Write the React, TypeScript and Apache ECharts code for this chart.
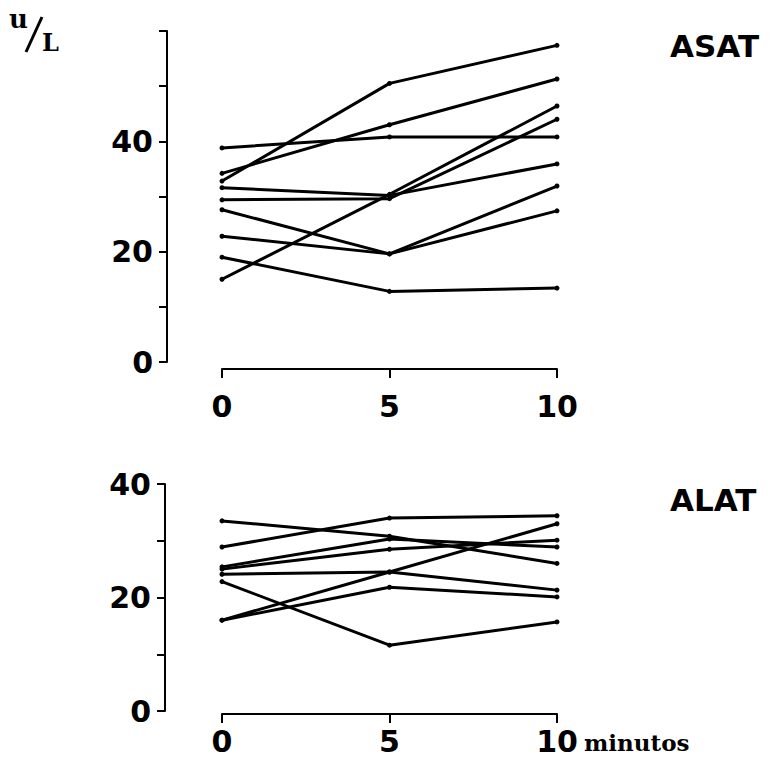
import React, { useEffect, useRef } from 'react';
import * as echarts from 'echarts';

// time points (minutes)
const minutes = [0, 5, 10];

// ASAT (U/L) per subject at 0, 5, 10 min
const asat1 = [38.8, 40.8, 40.8];
const asat2 = [34.2, 43.0, 51.3];
const asat3 = [32.8, 50.5, 57.4];
const asat4 = [31.6, 30.2, 35.9];
const asat5 = [29.4, 29.6, 44.0];
const asat6 = [15.0, 30.4, 46.4];
const asat7 = [27.6, 19.6, 31.9];
const asat8 = [22.8, 19.6, 27.4];
const asat9 = [19.0, 12.8, 13.4];

// ALAT (U/L) per subject at 0, 5, 10 min
const alat1 = [33.5, 30.8, 26.0];
const alat2 = [28.9, 34.0, 34.4];
const alat3 = [25.4, 30.3, 28.9];
const alat4 = [25.0, 28.5, 30.1];
const alat5 = [24.1, 24.5, 21.3];
const alat6 = [22.8, 11.6, 15.7];
const alat7 = [16.0, 21.8, 20.1];
const alat8 = [16.0, 24.5, 33.0];

const asatLines = [asat1, asat2, asat3, asat4, asat5, asat6, asat7, asat8, asat9];
const alatLines = [alat1, alat2, alat3, alat4, alat5, alat6, alat7, alat8];

const asatYLabels = [0, 20, 40];
const alatYLabels = [0, 20, 40];

const digitFont = 'DejaVu Sans';

export default function App() {
  const ref = useRef<HTMLDivElement>(null);
  useEffect(() => {
    const chart = echarts.init(ref.current!, null, { renderer: 'svg' });
    const mkLine = (vals: number[], idx: number) => ({
      type: 'line',
      xAxisIndex: idx,
      yAxisIndex: idx,
      data: minutes.map((m, i) => [m, vals[i]]),
      symbol: 'circle',
      symbolSize: 5,
      lineStyle: { color: '#000', width: 3 },
      itemStyle: { color: '#000' },
      silent: true,
    });
    const axisLine = { show: true, onZero: false, lineStyle: { color: '#000', width: 2 } };
    const labelStyle = {
      fontSize: 30,
      fontWeight: 'bold',
      fontFamily: digitFont,
      color: '#000',
    };
    const yAxis = (idx: number, max: number, labels: number[], offset: number) => ({
      gridIndex: idx,
      type: 'value',
      min: 0,
      max,
      interval: 10,
      offset,
      axisLine,
      axisTick: { show: true, length: 8, lineStyle: { color: '#000', width: 2 } },
      axisLabel: {
        ...labelStyle,
        margin: 14,
        formatter: (v: number) => (labels.includes(v) ? String(v) : ''),
      },
      splitLine: { show: false },
    });
    const xAxis = (idx: number, offset: number, margin: number) => ({
      gridIndex: idx,
      type: 'value',
      min: 0,
      max: 10,
      interval: 5,
      offset,
      axisLine,
      axisTick: { show: true, length: 9, lineStyle: { color: '#000', width: 2 } },
      axisLabel: { ...labelStyle, margin },
      splitLine: { show: false },
    });
    chart.setOption({
      animation: false,
      backgroundColor: '#fff',
      grid: [
        { left: 222, right: 223, top: 31, height: 331 },
        { left: 222, right: 223, top: 484, height: 227 },
      ],
      xAxis: [xAxis(0, 7, 22), xAxis(1, 3, 12)],
      yAxis: [yAxis(0, 60, asatYLabels, 55), yAxis(1, 40, alatYLabels, 57)],
      series: [
        ...asatLines.map((l) => mkLine(l, 0)),
        ...alatLines.map((l) => mkLine(l, 1)),
      ],
      graphic: [
        {
          type: 'text',
          left: 670,
          top: 30,
          style: { text: 'ASAT', fontSize: 31, fontWeight: 'bold', fontFamily: digitFont, fill: '#000' },
        },
        {
          type: 'text',
          left: 670,
          top: 484,
          style: { text: 'ALAT', fontSize: 31, fontWeight: 'bold', fontFamily: digitFont, fill: '#000' },
        },
        {
          type: 'text',
          left: 584,
          top: 731,
          style: { text: 'minutos', fontSize: 23, fontWeight: 'bold', fontFamily: 'DejaVu Serif', fill: '#000' },
        },
        {
          type: 'text',
          left: 9,
          top: 6,
          style: { text: 'u', fontSize: 26, fontWeight: 'bold', fontFamily: 'DejaVu Serif', fill: '#000' },
        },
        {
          type: 'line',
          shape: { x1: 26, y1: 52, x2: 42, y2: 17 },
          style: { stroke: '#000', lineWidth: 3 },
        },
        {
          type: 'text',
          left: 42,
          top: 30,
          style: { text: 'L', fontSize: 24, fontWeight: 'bold', fontFamily: 'DejaVu Serif', fill: '#000' },
        },
      ],
    });
    return () => chart.dispose();
  }, []);
  return (
    <div
      ref={ref}
      style={{ position: 'absolute', left: 0, top: 0, width: 780, height: 763, background: '#fff' }}
    />
  );
}
